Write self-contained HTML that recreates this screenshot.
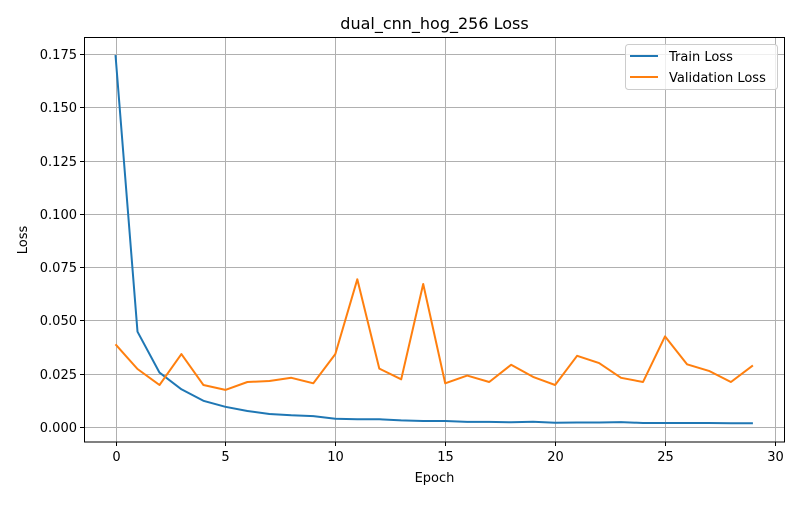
<!DOCTYPE html>
<html><head><meta charset="utf-8"><style>
body{margin:0;background:#fff;}
svg{font-family:"DejaVu Sans","Liberation Sans",sans-serif;}
</style></head><body>
<svg id="chart" width="800" height="500" xmlns="http://www.w3.org/2000/svg">
<rect width="800" height="500" fill="#fff"/>
<text x="434.5" y="29" text-anchor="middle" font-size="16">dual_cnn_hog_256 Loss</text>
<g id="grid"></g>
<g id="ticks"></g>
<g id="series"></g>
<rect x="84.5" y="37.5" width="700" height="404.5" fill="none" stroke="#000" stroke-width="1"/>
<text x="434.5" y="482" text-anchor="middle" font-size="13">Epoch</text>
<text x="27" y="240" text-anchor="middle" font-size="13" transform="rotate(-90 27 240)">Loss</text>
<g>
<rect x="625.5" y="44.5" width="152" height="45" rx="3" fill="#fff" fill-opacity="0.8" stroke="#ccc"/>
<line x1="630" y1="56" x2="658" y2="56" stroke="#1f77b4" stroke-width="2"/>
<text x="669" y="61" font-size="13">Train Loss</text>
<line x1="630" y1="77" x2="658" y2="77" stroke="#ff7f0e" stroke-width="2"/>
<text x="669" y="82" font-size="13">Validation Loss</text>
</g>
</svg>
<script>
const epochs=[0,1,2,3,4,5,6,7,8,9,10,11,12,13,14,15,16,17,18,19,20,21,22,23,24,25,26,27,28,29];
const trainLoss=[0.1745,0.0447,0.0255,0.0177,0.0123,0.0095,0.0075,0.0061,0.0055,0.0051,0.0039,0.0036,0.0036,0.0031,0.0028,0.0028,0.0024,0.0024,0.0022,0.0025,0.0020,0.0021,0.0021,0.0023,0.0019,0.0019,0.0019,0.0019,0.0018,0.0018];
const valLoss=[0.0388,0.0272,0.0197,0.0342,0.0197,0.0174,0.0211,0.0216,0.0231,0.0205,0.0342,0.0693,0.0274,0.0224,0.0671,0.0205,0.0241,0.0211,0.0292,0.0235,0.0197,0.0334,0.0300,0.0231,0.0211,0.0425,0.0294,0.0263,0.0211,0.0289];
const xTicks=[0,5,10,15,20,25,30];
const yTicks=[0,0.025,0.05,0.075,0.1,0.125,0.15,0.175];
const yTickLabels=["0.000","0.025","0.050","0.075","0.100","0.125","0.150","0.175"];
const NS="http://www.w3.org/2000/svg";
function xs(v){return 115.5+v*21.98;}
function ys(v){return 427-v*2131.4;}
function mk(tag,attrs,parent){const e=document.createElementNS(NS,tag);for(const k in attrs)e.setAttribute(k,attrs[k]);parent.appendChild(e);return e;}
const grid=document.getElementById('grid'),ticks=document.getElementById('ticks'),series=document.getElementById('series');
xTicks.forEach(t=>{const x=Math.round(xs(t))+0.5;
 const g=mk('line',{x1:x,x2:x,y1:37.5,y2:442,stroke:'#b0b0b0','stroke-width':1},grid);
 
 
 mk('line',{x1:x,x2:x,y1:442,y2:446,stroke:'#000'},ticks);
 const tx=mk('text',{x:x,y:461,'text-anchor':'middle','font-size':'13'},ticks);tx.textContent=t;
 
 
});
yTicks.forEach((t,i)=>{const y=Math.round(ys(t))+0.5;
 const g=mk('line',{x1:84.5,x2:784.5,y1:y,y2:y,stroke:'#b0b0b0','stroke-width':1},grid);
 
 
 mk('line',{x1:80,x2:84.5,y1:y,y2:y,stroke:'#000'},ticks);
 const tx=mk('text',{x:77,y:y+4.5,'text-anchor':'end','font-size':'13'},ticks);tx.textContent=yTickLabels[i];
 
 
});
function line(vals,color,name){
 const pts=vals.map((v,i)=>xs(epochs[i]).toFixed(1)+','+ys(v).toFixed(1)).join(' ');
 const p=mk('polyline',{points:pts,fill:'none',stroke:color,'stroke-width':2,'stroke-linejoin':'round'},series);
 
 
}
line(trainLoss,'#1f77b4','train-loss-line');
line(valLoss,'#ff7f0e','validation-loss-line');
</script>
</body></html>
